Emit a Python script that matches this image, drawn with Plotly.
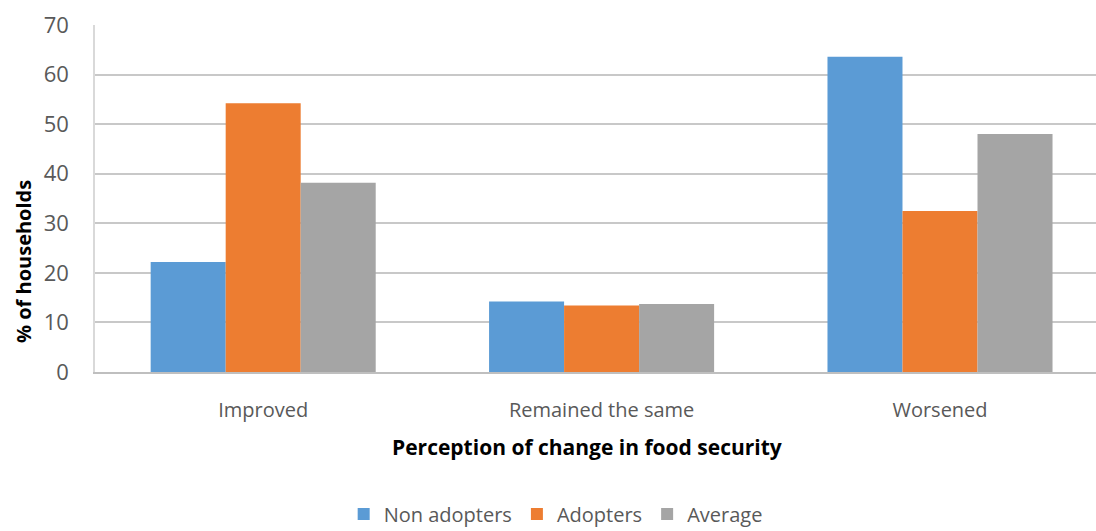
import plotly.graph_objects as go

categories = ["Improved", "Remained the same", "Worsened"]
non_adopters = [22.2, 14.2, 63.6]
adopters = [54.2, 13.4, 32.5]
average = [38.2, 13.7, 48.0]
series_names = ["Non adopters", "Adopters", "Average"]
colors = ["#5B9BD5", "#ED7D31", "#A5A5A5"]
y_ticks = [0, 10, 20, 30, 40, 50, 60, 70]

FONT = "Open Sans, DejaVu Sans, sans-serif"

# plot area in pixels: x 95..1096, y 25..372
PW, PH = 1001, 347

fig = go.Figure()
for name, vals, col in zip(series_names, [non_adopters, adopters, average], colors):
    fig.add_trace(go.Bar(
        x=list(range(len(categories))), y=vals, name=name,
        marker=dict(color=col, line=dict(width=0)),
    ))

fig.update_layout(
    width=1096, height=531,
    margin=dict(l=95, r=0, t=25, b=159),
    paper_bgcolor="white", plot_bgcolor="white",
    barmode="group", bargap=0.335, bargroupgap=0,
    font=dict(family=FONT, color="#595959"),
    showlegend=True,
    legend=dict(
        orientation="h", xref="container", yref="container",
        x=0.507, xanchor="center", y=1 - 514 / 531, yanchor="middle",
        font=dict(size=20, color="#595959", family=FONT),
        itemwidth=30,
    ),
    xaxis=dict(
        range=[-0.497, 2.461],
        tickmode="array", tickvals=list(range(len(categories))), ticktext=categories,
        tickfont=dict(size=20, color="#595959"),
        showgrid=False, zeroline=False,
        showline=True, linecolor="#BFBFBF", linewidth=1.5,
        ticks="outside", ticklen=0, ticklabelstandoff=19,
    ),
    yaxis=dict(
        range=[0, 70], tickmode="array", tickvals=y_ticks,
        tickfont=dict(size=22, color="#595959"),
        showgrid=True, gridcolor="#C8C8C8", gridwidth=1.5,
        zeroline=False,
        showline=True, linecolor="#D9D9D9", linewidth=1.5,
        ticks="outside", ticklen=0, ticklabelstandoff=20,
    ),
    annotations=[
        dict(text="<b>% of households</b>", textangle=-90,
             xref="paper", yref="paper", x=(23 - 95) / PW, y=(372 - 262) / PH,
             xanchor="center", yanchor="middle", showarrow=False,
             font=dict(size=20, color="#000000", family=FONT)),
        dict(text="<b>Perception of change in food security</b>",
             xref="paper", yref="paper", x=(587 - 95) / PW, y=(372 - 447) / PH,
             xanchor="center", yanchor="middle", showarrow=False,
             font=dict(size=21, color="#000000", family=FONT)),
    ],
)

fig.write_html("out.html")
